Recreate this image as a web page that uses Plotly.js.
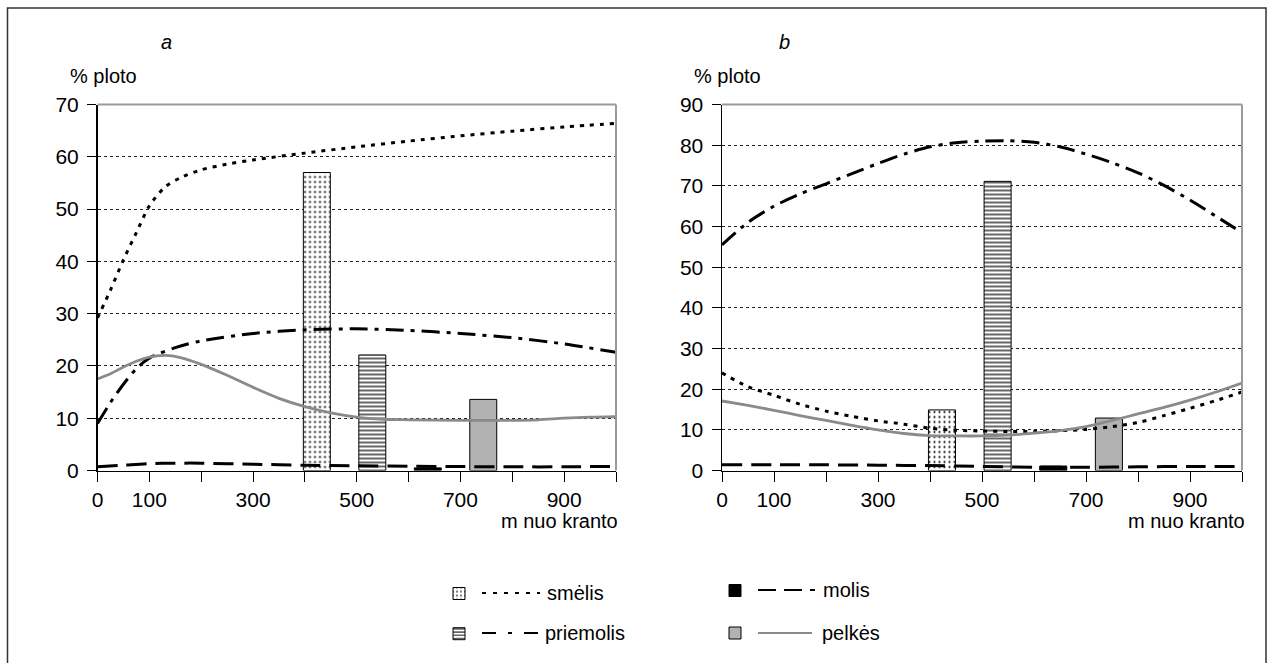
<!DOCTYPE html>
<html><head><meta charset="utf-8">
<script src="https://cdn.plot.ly/plotly-3.0.1.min.js"></script>
<style>html,body{margin:0;padding:0;background:#fff;overflow:hidden}#chart{width:1274px;height:663px}</style>
</head><body><div id="chart"></div>
<script>
// ---------- data ----------
const seriesNames = ['smėlis', 'priemolis', 'molis', 'pelkės'];
const xTickVals = [0,100,200,300,400,500,600,700,800,900,1000];
const xTickText = ['0','100','','300','','500','','700','','900',''];
const barX = [423, 530, 637, 744];
const barsA = [57.0, 22.1, 0.5, 13.6];
const barsB = [14.9, 71.1, 1.1, 12.9];

// panel a lines
const smelisAx = [0,25,50,75,100,130,160,200,250,300,400,500,600,700,800,900,1000];
const smelisAy = [29.2,34.5,40.3,45.5,50.6,54.2,56.0,57.5,58.6,59.4,60.7,61.9,63.0,64.0,64.9,65.7,66.4];
const priemolisAx = [0,25,50,75,100,150,200,300,400,500,600,700,800,900,1000];
const priemolisAy = [9.0,13.0,16.5,19.5,21.5,23.5,24.8,26.2,26.9,27.1,26.8,26.2,25.4,24.2,22.6];
const molisAx = [0,50,100,150,200,300,400,500,600,700,800,900,1000];
const molisAy = [0.7,1.0,1.3,1.4,1.4,1.2,1.0,0.9,0.8,0.75,0.7,0.7,0.8];
const pelkesAx = [0,25,50,75,100,130,160,200,250,300,350,400,450,500,550,600,700,800,850,900,950,1000];
const pelkesAy = [17.5,18.5,19.8,20.9,21.7,22.0,21.6,20.3,18.2,15.9,13.8,12.2,11.0,10.2,9.8,9.7,9.6,9.6,9.7,10.0,10.2,10.3];

// panel b lines
const smelisBx = [0,50,100,150,200,250,300,350,400,450,500,550,600,650,700,750,800,850,900,950,1000];
const smelisBy = [24.0,20.6,18.5,16.3,14.6,13.3,12.2,11.4,10.4,9.9,9.7,9.6,9.6,9.8,10.1,10.8,11.8,13.5,15.3,17.2,19.3];
const priemolisBx = [0,50,100,150,200,250,300,350,400,450,500,550,600,650,700,750,800,850,900,950,1000];
const priemolisBy = [55.5,61.0,65.0,68.0,70.5,73.0,75.5,77.8,79.6,80.6,81.0,81.1,80.7,79.6,77.8,75.7,73.2,70.1,66.5,62.5,58.5];
const molisBx = [0,100,200,300,400,500,600,700,800,900,1000];
const molisBy = [1.4,1.4,1.4,1.3,1.2,1.0,0.8,0.8,0.9,1.0,1.0];
const pelkesBx = [0,50,100,150,200,250,300,350,400,450,500,550,600,650,700,750,800,850,900,950,1000];
const pelkesBy = [17.1,16.0,14.8,13.5,12.3,11.1,10.0,9.1,8.6,8.5,8.5,8.7,9.2,9.8,10.8,12.3,13.9,15.5,17.3,19.3,21.5];

// ---------- helpers ----------
const W = 1274, H = 663;
const px = v => v / W;
const py = v => 1 - v / H;
const FONT = 'Arial, "Liberation Sans", sans-serif';

const barStyles = [
  {color:'#000', line:{color:'#000', width:1}, pattern:{shape:'.', bgcolor:'#fff', fgcolor:'#000', size:5, solidity:0.15, fillmode:'replace'}},
  {color:'#000', line:{color:'#000', width:1}, pattern:{shape:'-', bgcolor:'#fff', fgcolor:'#000', size:4, solidity:0.3, fillmode:'replace'}},
  {color:'#000', line:{color:'#000', width:1}},
  {color:'#b2b2b2', line:{color:'#000', width:1}}
];
const lineStyles = [
  {color:'#000', width:3, dash:'4px,6px', shape:'spline', smoothing:0.8},
  {color:'#000', width:3, dash:'18px,7px,4px,7px', shape:'spline', smoothing:0.8},
  {color:'#000', width:3, dash:'20px,9px', shape:'spline', smoothing:0.8},
  {color:'#8a8a8a', width:2.8, shape:'spline', smoothing:0.8}
];
const legendIds = ['legend','legend2','legend3','legend4'];

const traces = [];
function addPanel(bars, lines, xa, ya, showLeg) {
  bars.forEach((v, i) => {
    traces.push({type:'bar', x:[barX[i]], y:[v], width:[52], xaxis:xa, yaxis:ya,
      marker:barStyles[i], name:' ', showlegend:showLeg, legend:legendIds[i], hoverinfo:'skip'});
  });
  lines.forEach((l, i) => {
    traces.push({type:'scatter', mode:'lines', x:l[0], y:l[1], xaxis:xa, yaxis:ya,
      line:lineStyles[i], name:seriesNames[i], showlegend:false, hoverinfo:'skip'});
  });
}
addPanel(barsA, [[smelisAx,smelisAy],[priemolisAx,priemolisAy],[molisAx,molisAy],[pelkesAx,pelkesAy]], 'x', 'y', true);
addPanel(barsB, [[smelisBx,smelisBy],[priemolisBx,priemolisBy],[molisBx,molisBy],[pelkesBx,pelkesBy]], 'x2', 'y2', false);

const yTop = 104.5, yBot = 470.5;
function xAxis(d0, d1, anchor) {
  return {domain:[px(d0), px(d1)], range:[0,1000], anchor:anchor, tickvals:xTickVals, ticktext:xTickText,
    ticks:'outside', ticklen:10, tickwidth:1, tickcolor:'#000', showline:true, linecolor:'#000', linewidth:1.5,
    showgrid:false, zeroline:false, fixedrange:true, automargin:false,
    tickfont:{family:FONT, size:21, color:'#000'}};
}
function yAxis(max, anchor) {
  return {domain:[py(yBot), py(yTop)], range:[0,max], anchor:anchor, dtick:10, tick0:0,
    ticks:'outside', ticklen:9, tickwidth:1, tickcolor:'#000', showline:true, linecolor:'#000', linewidth:1.5,
    showgrid:true, gridcolor:'#222', gridwidth:1, griddash:'3px,3px', zeroline:false, fixedrange:true, automargin:false,
    ticklabelstandoff:4, tickfont:{family:FONT, size:21, color:'#000'}};
}

const legendPos = [[439, 593.5], [439, 633.7], [715, 590.5], [715, 633]];
const legendLayout = {};
legendIds.forEach((id, i) => {
  legendLayout[id] = {x:px(legendPos[i][0]), y:py(legendPos[i][1]), xanchor:'left', yanchor:'middle',
    bgcolor:'rgba(0,0,0,0)', borderwidth:0, font:{family:FONT, size:20}, itemclick:false, itemdoubleclick:false};
});

function border(xr, yr) {
  return [
    {type:'line', xref:xr, yref:yr, x0:0, x1:1, y0:1, y1:1, line:{color:'#9a9a9a', width:2}},
    {type:'line', xref:xr, yref:yr, x0:1, x1:1, y0:0, y1:1, line:{color:'#9a9a9a', width:2}}
  ];
}
const legendLines = [
  {x0:482, x1:540, y:593, line:{color:'#000', width:2, dash:'4px,7px'}},
  {x0:482, x1:540, y:633, line:{color:'#000', width:2, dash:'14px,12px,4px,12px'}},
  {x0:758, x1:815, y:590, line:{color:'#000', width:2, dash:'18px,8px'}},
  {x0:758, x1:812, y:633, line:{color:'#8a8a8a', width:2}}
];
const shapes = [...border('x domain','y domain'), ...border('x2 domain','y2 domain'),
  ...legendLines.map(l => ({type:'line', xref:'paper', yref:'paper', x0:px(l.x0), x1:px(l.x1), y0:py(l.y), y1:py(l.y), line:l.line})),
  {type:'rect', xref:'paper', yref:'paper', x0:px(7.5), x1:px(1266), y0:py(720), y1:py(8), line:{color:'#333', width:1.5}}
];

function ann(text, x, y, xanchor, extra) {
  return Object.assign({text:text, xref:'paper', yref:'paper', x:px(x), y:py(y), xanchor:xanchor, yanchor:'middle',
    showarrow:false, font:{family:FONT, size:20, color:'#000'}}, extra || {});
}
const annotations = [
  ann('<i>a</i>', 166, 42, 'center'),
  ann('<i>b</i>', 784, 42, 'center'),
  ann('% ploto', 68, 76, 'left'),
  ann('% ploto', 692, 76, 'left'),
  ann('m nuo kranto', 620, 521, 'right'),
  ann('m nuo kranto', 1247, 521, 'right'),
  ann(seriesNames[0], 545, 593, 'left'),
  ann(seriesNames[1], 543, 633, 'left'),
  ann(seriesNames[2], 821, 590, 'left'),
  ann(seriesNames[3], 820, 633, 'left')
];

const layout = Object.assign({
  width:W, height:H, margin:{l:0, r:0, t:0, b:0}, paper_bgcolor:'#fff', plot_bgcolor:'#fff',
  barmode:'overlay', bargap:0,
  xaxis:xAxis(97.5, 616, 'y'), yaxis:yAxis(70, 'x'),
  xaxis2:xAxis(722, 1242, 'y2'), yaxis2:yAxis(90, 'x2'),
  shapes:shapes, annotations:annotations, showlegend:true
}, legendLayout);

Plotly.newPlot('chart', traces, layout, {staticPlot:true, displayModeBar:false});
</script></body></html>
